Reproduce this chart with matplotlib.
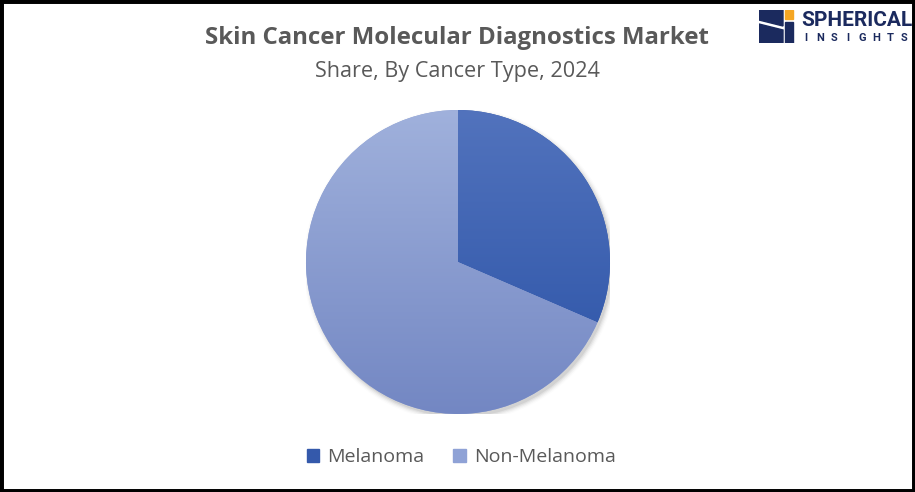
import numpy as np
import matplotlib
matplotlib.use("Agg")
import matplotlib.pyplot as plt
from matplotlib.patches import Rectangle, Polygon
from matplotlib.colors import LinearSegmentedColormap

categories = ["Melanoma", "Non-Melanoma"]
shares = [31.5, 68.5]
top_colors = ["#5273bd", "#a0b1dc"]
bottom_colors = ["#2a52a6", "#7387c3"]
legend_colors = ["#3459ab", "#8fa2d6"]
title = "Skin Cancer Molecular Diagnostics Market"
subtitle = "Share, By Cancer Type, 2024"

plt.rcParams['font.family'] = ['Open Sans', 'DejaVu Sans']
W, H = 915, 492
fig = plt.figure(figsize=(W/100, H/100), dpi=100)
fig.patch.set_facecolor("white")

# border
fig.add_artist(Rectangle((0, 0), 1, 1, transform=fig.transFigure, fill=False,
                         edgecolor="black", linewidth=5))

cx, cy, r = 458, 262, 152
ax = fig.add_axes([(cx - r)/W, (H - cy - r)/H, 2*r/W, 2*r/H])
ax.set_xlim(-1.0, 1.0)
ax.set_ylim(-1.0, 1.0)
ax.set_aspect("equal")
ax.axis("off")

# soft shadow
for i, a in enumerate(np.linspace(0.06, 0.01, 5)):
    circ = plt.Circle((0.015, -0.02), 1.0 + 0.008*i, color="black", alpha=a, zorder=0, lw=0)
    ax.add_patch(circ)

wedges, _ = ax.pie(shares, startangle=90, counterclock=False, radius=1.0,
                   colors=legend_colors, wedgeprops=dict(linewidth=0))

for w, tc, bc in zip(wedges, top_colors, bottom_colors):
    cmap = LinearSegmentedColormap.from_list("g", [bc, tc])
    grad = np.linspace(0, 1, 256).reshape(-1, 1)
    im = ax.imshow(grad, extent=[-1, 1, -1, 1], origin="lower", cmap=cmap,
                   aspect="auto", zorder=w.get_zorder() + 0.1)
    im.set_clip_path(w)
ax.set_xlim(-1.0, 1.0)
ax.set_ylim(-1.0, 1.0)

fig.text(457/W, 1 - 38/H, title, ha="center", va="center", fontsize=17.3,
         fontweight="bold", color="#595959")
fig.text(457/W, 1 - 71/H, subtitle, ha="center", va="center", fontsize=15.6,
         color="#595959")

# legend
handles = [Rectangle((0, 0), 1, 1, color=c) for c in legend_colors]
fig.legend(handles, categories, loc="center", bbox_to_anchor=(461/W, 1 - 457/H),
           ncol=2, frameon=False, fontsize=14, handlelength=0.65, handleheight=0.65,
           handletextpad=0.4, columnspacing=1.5, labelcolor="#595959")

# logo
lax = fig.add_axes([759/W, 1 - 43/H, 36/W, 33/H])
lax.set_xlim(0, 36); lax.set_ylim(0, 33); lax.axis("off")
lax.add_patch(Polygon([[0, 0], [24, 0], [24, 13], [0, 19]], color="#1b2a5e"))
lax.add_patch(Polygon([[0, 23], [24, 17], [24, 33], [0, 33]], color="#1b2a5e"))
lax.add_patch(Rectangle((26, 0), 8, 21, color="#1b2a5e"))
lax.add_patch(Rectangle((26, 24), 8, 9, color="#f5a623"))
fig.text(801/W, 1 - 21/H, "SPHERICAL", fontsize=15, fontweight="bold",
         color="#1b2a5e", va="center", ha="left",
         family=["Liberation Sans Narrow", "Roboto", "DejaVu Sans"])
insights = "INSIGHTS"
for i, ch in enumerate(insights):
    fig.text((806 + i*14.0)/W, 1 - 38/H, ch, fontsize=8, color="#1b2a5e",
             va="center", ha="center", fontweight="bold", family=["Roboto", "DejaVu Sans"])

fig.savefig("out.png", dpi=100)
